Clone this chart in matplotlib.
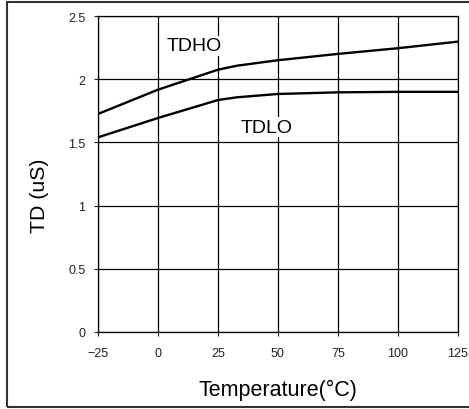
import matplotlib
matplotlib.use('Agg')
from matplotlib import pyplot as plt
from matplotlib.patches import Rectangle

plt.rcParams['font.family'] = ['Liberation Sans', 'DejaVu Sans']

temp = [-25, 0, 25, 33, 50, 75, 100, 125]
tdho = [1.725, 1.917, 2.075, 2.107, 2.15, 2.20, 2.245, 2.297]
tdlo = [1.54, 1.693, 1.835, 1.857, 1.883, 1.896, 1.90, 1.90]

x_ticks = [-25, 0, 25, 50, 75, 100, 125]
y_ticks = [0, 0.5, 1, 1.5, 2, 2.5]
y_tick_labels = ['0', '0.5', '1', '1.5', '2', '2.5']

fig = plt.figure(figsize=(4.69, 4.10), dpi=100)
ax = fig.add_axes([98 / 469, 77 / 410, 359.7 / 469, 316 / 410])

ax.plot(temp, tdho, color='black', linewidth=1.7, zorder=3)
ax.plot(temp, tdlo, color='black', linewidth=1.7, zorder=3)

ax.set_xlim(-25, 125)
ax.set_ylim(0, 2.5)
ax.set_xticks(x_ticks)
ax.set_yticks(y_ticks)
ax.set_yticklabels(y_tick_labels)
ax.tick_params(direction='out', length=3, width=0.8, labelsize=9, colors='#222222')
ax.tick_params(axis='x', pad=8)
ax.tick_params(axis='y', pad=6)
ax.grid(True, color='black', linewidth=0.9)
for s in ax.spines.values():
    s.set_linewidth(0.9)

# curve labels with white boxes covering grid lines
ax.text(15, 2.263, 'TDHO', fontsize=14, ha='center', va='center', zorder=4,
        bbox=dict(facecolor='white', edgecolor='none', pad=1))
ax.text(45.5, 1.62, 'TDLO', fontsize=14, ha='center', va='center', zorder=4,
        bbox=dict(facecolor='white', edgecolor='none', pad=1))

ax.set_xlabel('Temperature(°C)', fontsize=15.5)
ax.xaxis.set_label_coords(0.5, -0.147)
ax.set_ylabel('TD (uS)', fontsize=15.3)
ax.yaxis.set_label_coords(-0.136, 0.434)

# outer frame (top, left, bottom)
fig.patches.append(Rectangle((7 / 469, 2 / 410), 1.0, 405 / 410, transform=fig.transFigure,
                             fill=False, edgecolor='#333333', linewidth=1.5))

fig.savefig('out.png', dpi=100)
